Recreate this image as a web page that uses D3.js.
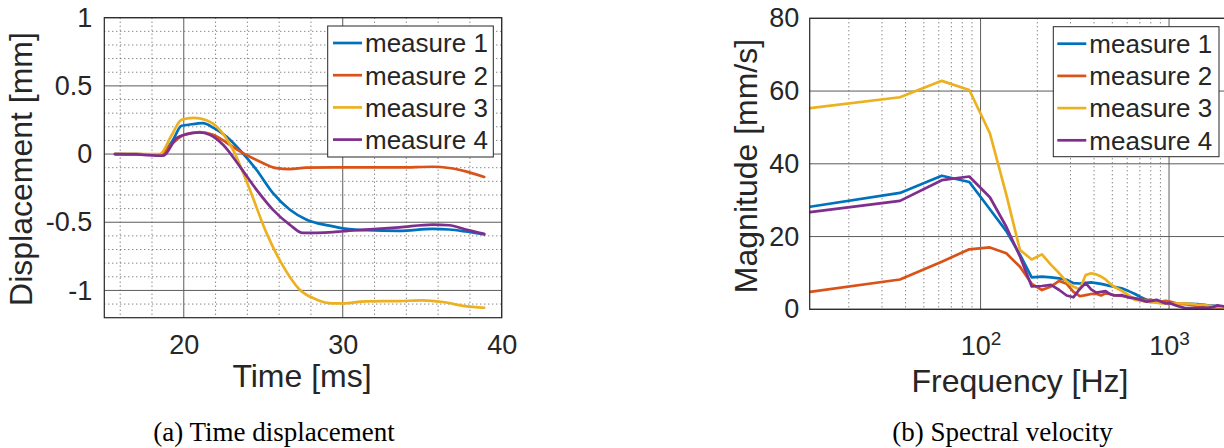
<!DOCTYPE html>
<html><head><meta charset="utf-8">
<script src="https://cdn.jsdelivr.net/npm/d3@7"></script>
<style>
body{margin:0;background:#fff}
svg{display:block}
text{font-family:"Liberation Sans",Arial,Helvetica,sans-serif;fill:#262626}
.cap{font-family:"Liberation Serif","Times New Roman",serif;fill:#000}
</style></head>
<body><svg id="c" width="1224" height="448"></svg>
<script>
// ---------- DATA ----------
const seriesNames = ["measure 1", "measure 2", "measure 3", "measure 4"];

// (a) time displacement
const m1Time = [15.67,17,18.5,19.3,19.86,20.3,21.2,21.9,22.68,23.52,24.57,25.6,26.66,27.7,28.5,29.38,30,31.46,33.56,35.65,36.7,37.74,38.9];
const m1Disp = [0,0,-0.005,0.1,0.207,0.215,0.227,0.19,0.129,0.031,-0.115,-0.285,-0.407,-0.48,-0.51,-0.53,-0.545,-0.558,-0.563,-0.549,-0.553,-0.568,-0.59];
const m2Time = [15.67,17,18.5,19.3,20.0,21.0,21.84,22.68,23.73,24.77,25.82,26.66,27.7,29.38,31.46,33.56,35.65,36.7,37.74,38.9];
const m2Disp = [0,0,-0.005,0.08,0.14,0.161,0.141,0.085,0.007,-0.054,-0.103,-0.11,-0.1,-0.098,-0.098,-0.098,-0.093,-0.102,-0.127,-0.168];
const m3Time = [15.67,17,18.5,19.2,19.86,20.6,21.43,22.06,23.1,24.15,25.2,26.24,27.28,28.33,29.38,30,31.46,33.56,35,36.3,37.7,38.9];
const m3Disp = [0,0,0,0.13,0.251,0.265,0.248,0.202,0.031,-0.26,-0.578,-0.82,-0.993,-1.066,-1.095,-1.095,-1.08,-1.078,-1.073,-1.085,-1.115,-1.127];
const m4Time = [15.67,17,18.7,19.54,20.17,21.0,21.63,22.47,23.52,24.57,25.6,26.66,27.49,28.33,29.38,30,31.46,33.56,35.65,36.7,37.74,38.9];
const m4Disp = [0,-0.003,-0.012,0.117,0.146,0.158,0.141,0.068,-0.09,-0.261,-0.407,-0.517,-0.578,-0.578,-0.573,-0.566,-0.554,-0.537,-0.517,-0.522,-0.554,-0.585];
const timeTicks = [20, 30, 40];
const dispTicks = [-1, -0.5, 0, 0.5, 1];
const dispTickLabels = ["-1", "-0.5", "0", "0.5", "1"];

// (b) spectral velocity
const freqHz = [12.45,37.35,62.25,87.15,112.05,136.95,161.85,186.75,211.65,236.55,261.45,286.35,311.25,336.15,361.05,385.95,410.85,435.75,460.65,485.55,510.45,560.25,610.05,659.85,709.65,759.45,809.25,859.05,908.85,958.65,1008.45,1108,1208,1307,1407,1507,1606,1706,1806,1905,2005];
const m1Mag = [28.2,32.0,36.7,35.0,27.5,21.5,15.0,8.8,9.0,8.8,8.5,8.1,7.2,7.1,7.3,7.4,7.2,7.0,6.7,6.4,6.2,5.8,5.0,4.2,3.3,2.6,2.5,2.2,2.1,1.8,1.6,1.5,1.5,1.5,1.4,1.3,1.1,1.0,0.8,0.7,0.6];
const m2Mag = [4.8,8.2,13.1,16.5,17.0,15.4,11.7,7.0,5.3,6.3,7.8,7.0,4.8,3.6,3.9,4.2,4.3,3.8,4.4,4.2,3.9,3.7,3.3,3.0,2.7,2.6,2.5,2.4,2.1,2.3,2.1,1.6,1.5,1.2,0.9,0.8,0.7,0.6,0.5,0.5,0.5];
const m3Mag = [55.3,58.3,62.8,60.3,48.4,31.5,16.3,13.7,15.1,12.2,9.9,7.6,6.2,5.5,9.4,9.9,9.6,9.0,8.2,7.1,6.2,5.1,3.9,2.6,2.4,2.1,1.9,1.8,1.6,1.6,1.6,1.6,1.6,1.5,1.3,1.2,1.0,0.9,0.7,0.6,0.5];
const m4Mag = [26.7,29.8,35.5,36.5,30.8,22.7,14.5,6.3,6.4,6.7,5.3,3.8,3.3,5.6,7.2,5.5,4.6,4.8,5.0,4.2,3.8,3.9,3.3,3.0,2.6,2.1,2.3,2.6,2.1,1.6,1.7,0.9,0.4,0.3,0.3,0.5,0.4,0.6,1.1,0.9,0.7];
const freqTicks = [100, 1000];
const freqTickExp = ["2", "3"];
const magTicks = [0, 20, 40, 60, 80];

// ---------- STYLE ----------
const colors = ["#0072BD", "#D95319", "#EDB120", "#7E2F8E"];
const svg = d3.select("#c");

function drawPanel(o) {
  const g = svg.append("g");
  const [x0, x1] = o.x.range(), [y1, y0] = o.y.range();
  // minor grid
  g.selectAll(".mx").data(o.minorX).join("line")
    .attr("x1", d => o.x(d)).attr("x2", d => o.x(d)).attr("y1", y0).attr("y2", y1)
    .attr("stroke", "#555").attr("stroke-width", 1).attr("stroke-dasharray", "1,3");
  g.selectAll(".my").data(o.minorY).join("line")
    .attr("y1", d => o.y(d)).attr("y2", d => o.y(d)).attr("x1", x0).attr("x2", x1)
    .attr("stroke", "#555").attr("stroke-width", 1).attr("stroke-dasharray", "1,3");
  // major grid
  g.selectAll(".Mx").data(o.majorX).join("line")
    .attr("x1", d => o.x(d)).attr("x2", d => o.x(d)).attr("y1", y0).attr("y2", y1)
    .attr("stroke", "#5c5c5c").attr("stroke-width", 1);
  g.selectAll(".My").data(o.majorY).join("line")
    .attr("y1", d => o.y(d)).attr("y2", d => o.y(d)).attr("x1", x0).attr("x2", x1)
    .attr("stroke", "#5c5c5c").attr("stroke-width", 1);
  // clip
  const cid = "clip" + o.id;
  svg.append("clipPath").attr("id", cid).append("rect")
    .attr("x", x0).attr("y", y0).attr("width", x1 - x0).attr("height", y1 - y0);
  const lg = g.append("g").attr("clip-path", `url(#${cid})`);
  o.series.forEach((s, i) => {
    lg.append("path").datum(s)
      .attr("d", o.line)
      .attr("fill", "none").attr("stroke", colors[i]).attr("stroke-width", 2.7)
      .attr("stroke-linejoin", "round").attr("stroke-linecap", "round");
  });
  // box
  g.append("rect").attr("x", x0).attr("y", y0).attr("width", x1 - x0).attr("height", y1 - y0)
    .attr("fill", "none").attr("stroke", "#262626").attr("stroke-width", 1.2);
  // y axis
  const ya = g.append("g").attr("transform", `translate(${x0},0)`)
    .call(d3.axisLeft(o.y).tickValues(o.yTicks).tickSize(0).tickPadding(o.yPad)
      .tickFormat((d, i) => o.yLabels[i]));
  ya.select(".domain").remove();
  ya.selectAll("text").attr("font-size", 27).attr("fill", "#262626")
    .style("font-family", '"Liberation Sans",Arial,sans-serif');
  // x axis
  const xa = g.append("g").attr("transform", `translate(0,${y1})`)
    .call(d3.axisBottom(o.x).tickValues(o.xTicks).tickSize(0).tickFormat(o.xFmt));
  xa.select(".domain").remove();
  xa.selectAll("text").attr("dy", null).attr("y", o.xBase).attr("font-size", 27).attr("fill", "#262626")
    .style("font-family", '"Liberation Sans",Arial,sans-serif');
  if (o.sup) {
    xa.selectAll("text").text(null).each(function (d, i) {
      const t = d3.select(this);
      t.append("tspan").text("10");
      t.append("tspan").attr("font-size", 19).attr("dy", -10).text(o.sup[i]);
    });
  }
  // labels
  g.append("text").attr("x", o.xlabX).attr("y", o.xlabY).attr("text-anchor", "middle")
    .attr("font-size", 32).text(o.xlab);
  g.append("text").attr("transform", `translate(${o.ylabX},${o.ylabY}) rotate(-90)`)
    .attr("text-anchor", "middle").attr("font-size", 32).text(o.ylab);
  // legend
  const L = o.legend;
  const leg = g.append("g");
  leg.append("rect").attr("x", L.x).attr("y", L.y).attr("width", L.w).attr("height", L.h)
    .attr("fill", "#fff").attr("stroke", "#262626").attr("stroke-width", 1);
  seriesNames.forEach((n, i) => {
    const cy = L.y + 17 + i * 32.2;
    leg.append("line").attr("x1", L.sx).attr("x2", L.sx + 29).attr("y1", cy).attr("y2", cy)
      .attr("stroke", colors[i]).attr("stroke-width", 2.7);
    leg.append("text").attr("x", L.sx + 32).attr("y", cy).attr("dy", "0.36em")
      .attr("font-size", 26).attr("fill", "#000").text(n);
  });
  // caption
  svg.append("text").attr("class", "cap").attr("x", o.capX).attr("y", 441)
    .attr("text-anchor", "middle").attr("font-size", 27).text(o.cap);
}

// Panel (a)
const xA = d3.scaleLinear().domain([15, 40]).range([104.3, 501.7]);
const yA = d3.scaleLinear().domain([-1.2, 1]).range([317.7, 17.7]);
const zip = (a, b) => a.map((v, i) => [v, b[i]]);
drawPanel({
  id: "a", x: xA, y: yA,
  minorX: d3.range(16, 40, 2).filter(d => d % 10 !== 0),
  minorY: d3.range(-11, 10).map(d => d / 10).filter(d => Math.abs(d * 2 - Math.round(d * 2)) > 1e-6),
  majorX: timeTicks, majorY: dispTicks,
  series: [zip(m1Time, m1Disp), zip(m2Time, m2Disp), zip(m3Time, m3Disp), zip(m4Time, m4Disp)],
  line: d3.line().x(d => xA(d[0])).y(d => yA(d[1])).curve(d3.curveMonotoneX),
  yTicks: dispTicks, yLabels: dispTickLabels, yPad: 12,
  xTicks: timeTicks, xFmt: d3.format("d"), xBase: 36,
  xlab: "Time [ms]", xlabX: 302, xlabY: 387,
  ylab: "Displacement [mm]", ylabX: 32.3, ylabY: 169,
  legend: { x: 327.7, y: 26, w: 165.6, h: 131, sx: 333 },
  cap: "(a) Time displacement", capX: 274
});

// Panel (b)
const xB = d3.scaleLog().domain([12.4, 2040]).range([809.7, 1227.4]);
const yB = d3.scaleLinear().domain([0, 80]).range([309.3, 18.3]);
const minorF = [];
[10, 100, 1000].forEach(b => d3.range(2, 10).forEach(k => { if (b * k > 12.4 && b * k < 2040) minorF.push(b * k); }));
drawPanel({
  id: "b", x: xB, y: yB,
  minorX: minorF, minorY: [],
  majorX: freqTicks, majorY: magTicks,
  series: [zip(freqHz, m1Mag), zip(freqHz, m2Mag), zip(freqHz, m3Mag), zip(freqHz, m4Mag)],
  line: d3.line().x(d => xB(d[0])).y(d => yB(d[1])),
  yTicks: magTicks, yLabels: magTicks.map(String), yPad: 10.4,
  xTicks: freqTicks, xFmt: () => "", xBase: 46, sup: freqTickExp,
  xlab: "Frequency [Hz]", xlabX: 1020, xlabY: 392,
  ylab: "Magnitude [mm/s]", ylabX: 756.6, ylabY: 166,
  legend: { x: 1053.3, y: 26.7, w: 165.7, h: 130, sx: 1057.3 },
  cap: "(b) Spectral velocity", capX: 1002.5
});
</script></body></html>
